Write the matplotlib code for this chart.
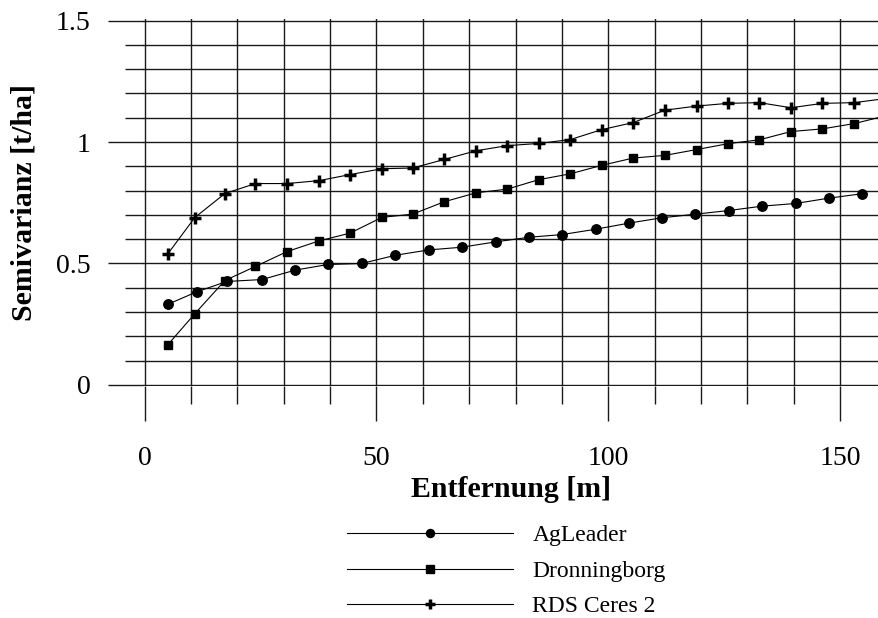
import matplotlib
matplotlib.use("Agg")
import matplotlib.pyplot as plt
from matplotlib.ticker import MultipleLocator, FixedLocator

plt.rcParams['font.family'] = ['Liberation Serif', 'DejaVu Serif']

# lag distances [m] and semivariance [t/ha]
lag_ag = [5.1, 11.3, 17.7, 25.3, 32.5, 39.6, 46.8, 54.1, 61.3, 68.4, 75.7,
          82.9, 90.0, 97.3, 104.4, 111.5, 118.8, 126.0, 133.2, 140.4, 147.6, 154.7]
gamma_ag = [0.333, 0.384, 0.426, 0.434, 0.473, 0.496, 0.500, 0.534, 0.556, 0.567, 0.589,
            0.608, 0.619, 0.641, 0.666, 0.688, 0.703, 0.718, 0.736, 0.747, 0.769, 0.787]

lag_dr = [5.0, 10.8, 17.3, 23.9, 30.7, 37.6, 44.3, 51.2, 57.8, 64.6, 71.5, 78.2,
          85.0, 91.8, 98.6, 105.4, 112.2, 119.1, 125.8, 132.6, 139.4, 146.2, 153.1, 159.9]
gamma_dr = [0.166, 0.293, 0.430, 0.488, 0.549, 0.593, 0.625, 0.690, 0.703, 0.754, 0.791, 0.806,
            0.845, 0.869, 0.904, 0.934, 0.945, 0.969, 0.993, 1.009, 1.043, 1.054, 1.076, 1.108]
gamma_rds = [0.540, 0.689, 0.788, 0.829, 0.829, 0.841, 0.866, 0.890, 0.893, 0.928, 0.964, 0.985,
             0.994, 1.010, 1.051, 1.080, 1.131, 1.148, 1.159, 1.162, 1.141, 1.159, 1.162, 1.179]

labels = ['AgLeader', 'Dronningborg', 'RDS Ceres 2']
x_ticks = [0, 50, 100, 150]
y_ticks = [0, 0.5, 1, 1.5]
y_ticklabels = ['0', '0.5', '1', '1.5']

W, H = 879, 618
# data limits padded a hair so the edge grid lines are not cut in half
x0, x1 = -0.3, 158.4
y0, y1 = -0.005, 1.505
px_x = 4.635    # pixels per metre
px_y = 243.0    # pixels per t/ha
left = 144.7 + x0 * px_x
bottom = 385.0 - y0 * px_y
top = 385.0 - y1 * px_y
fig = plt.figure(figsize=(W / 100, H / 100), dpi=100)
ax = fig.add_axes([left / W, 1 - bottom / H, 1 - left / W, (bottom - top) / H])

line_kw = dict(color='black', linewidth=0.8)
ax.plot(lag_ag, gamma_ag, marker='o', markersize=6.8, label=labels[0], **line_kw)
ax.plot(lag_dr, gamma_dr, marker='s', markersize=6.2, label=labels[1], **line_kw)
ax.plot(lag_dr, gamma_rds, marker='+', markersize=8.5, markeredgewidth=2.5,
        label=labels[2], **line_kw)

ax.set_xlim(x0, x1)
ax.set_ylim(y0, y1)
ax.xaxis.set_major_locator(FixedLocator(x_ticks))
ax.xaxis.set_minor_locator(MultipleLocator(10))
ax.yaxis.set_major_locator(FixedLocator(y_ticks))
ax.yaxis.set_minor_locator(MultipleLocator(0.1))
ax.set_yticklabels(y_ticklabels)

for s in ax.spines.values():
    s.set_visible(False)

grid_kw = dict(color='#1a1a1a', linewidth=1.0)
ax.grid(True, which='both', **grid_kw)
ax.set_axisbelow(True)
ax.tick_params(which='major', length=25.2, width=1.0, color='#1a1a1a',
               direction='out', labelsize=20)
ax.tick_params(which='minor', length=13, width=1.0, color='#1a1a1a', direction='out')
ax.tick_params(axis='y', which='major', pad=13)
ax.tick_params(axis='x', which='major', pad=17.5)

ax.set_xlabel('Entfernung [m]', fontsize=21.5, fontweight='bold', labelpad=4)
ax.set_ylabel('Semivarianz [t/ha]', fontsize=21.5, fontweight='bold')
ax.yaxis.set_label_coords(-(left - 38) / (W - left), 0.5)

fig.legend(loc='center left', bbox_to_anchor=(347 / W, 1 - 571 / H),
           frameon=False, fontsize=17, borderpad=0, borderaxespad=0,
           handlelength=7.05, handletextpad=0.8, labelspacing=0.59,
           markerscale=0.85)

fig.savefig('out.png', dpi=100)
